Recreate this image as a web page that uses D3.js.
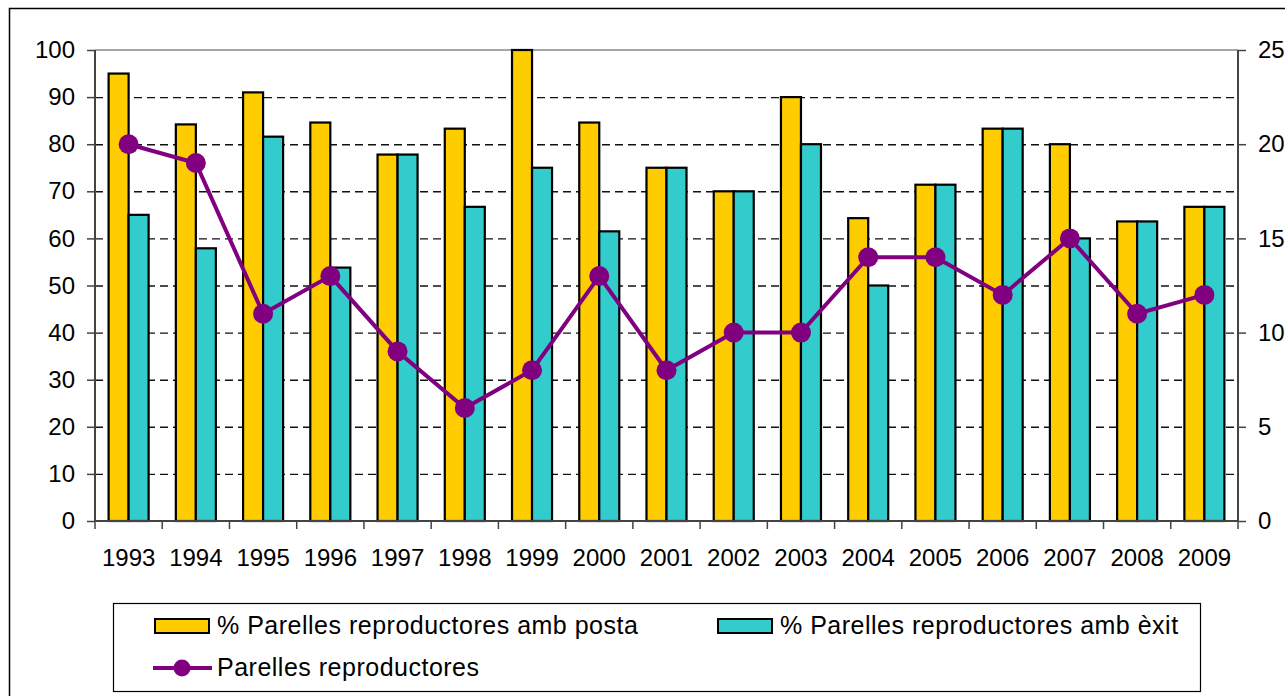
<!DOCTYPE html>
<meta charset="utf-8">
<head>
<style>
body { margin: 0; background: #fff; }
svg text { font-family: "Liberation Sans", Arial, sans-serif; fill: #000; }
</style>
<script src="https://cdnjs.cloudflare.com/ajax/libs/d3/7.8.5/d3.min.js"></script>
</head>
<body>
<div id="vis-container"></div>
<script>
var years = ['1993','1994','1995','1996','1997','1998','1999','2000','2001','2002','2003','2004','2005','2006','2007','2008','2009']
var posta = [95, 84.2, 91, 84.6, 77.8, 83.3, 100, 84.6, 75, 70, 90, 64.3, 71.4, 83.3, 80, 63.6, 66.7]
var exit = [65, 57.9, 81.6, 53.8, 77.8, 66.7, 75, 61.5, 75, 70, 80, 50, 71.4, 83.3, 60, 63.6, 66.7]
var parelles = [20, 19, 11, 13, 9, 6, 8, 13, 8, 10, 10, 14, 14, 12, 15, 11, 12]
var leftTicks = [0, 10, 20, 30, 40, 50, 60, 70, 80, 90, 100]
var rightTicks = [0, 5, 10, 15, 20, 25]
var seriesNames = ['% Parelles reproductores amb posta', '% Parelles reproductores amb èxit', 'Parelles reproductores']

var yellow = '#FFCC00', teal = '#33CCCC', purple = '#800080'

var plot = {left: 95, right: 1238, top: 50, bottom: 521}

var svg = d3.select('#vis-container').append('svg')
	.attr('width', 1285)
	.attr('height', 696)

// outer frame
svg.append('rect')
	.attr('x', 9.5).attr('y', 8.5)
	.attr('width', 1285).attr('height', 700)
	.attr('fill', 'none').attr('stroke', '#000').attr('stroke-width', 1.5)

var x0 = d3.scaleBand().domain(years).range([plot.left, plot.right])
var x1 = d3.scaleBand().domain(['posta', 'exit']).range([0, x0.bandwidth()]).paddingOuter(0.68)
var y = d3.scaleLinear().domain([0, 100]).range([plot.bottom, plot.top])
var y2 = d3.scaleLinear().domain([0, 25]).range([plot.bottom, plot.top])

// gridlines
svg.append('g').selectAll('line')
	.data(leftTicks.filter(function(d) { return d > 0 && d < 100 }))
	.enter().append('line')
	.attr('x1', plot.left).attr('x2', plot.right)
	.attr('y1', function(d) { return y(d) + 0.5 }).attr('y2', function(d) { return y(d) + 0.5 })
	.attr('stroke', '#111').attr('stroke-width', 1.4).attr('stroke-dasharray', '8,5')

// top border of plot
svg.append('line')
	.attr('x1', plot.left).attr('x2', plot.right)
	.attr('y1', plot.top).attr('y2', plot.top)
	.attr('stroke', '#888').attr('stroke-width', 1.5)

// bars
var groups = svg.append('g').selectAll('g')
	.data(years)
	.enter().append('g')
	.attr('transform', function(d) { return 'translate(' + x0(d) + ',0)' })

groups.append('rect')
	.attr('x', x1('posta'))
	.attr('y', function(d, i) { return y(posta[i]) })
	.attr('width', x1.bandwidth())
	.attr('height', function(d, i) { return y(0) - y(posta[i]) })
	.attr('fill', yellow).attr('stroke', '#000').attr('stroke-width', 2.2)

groups.append('rect')
	.attr('x', x1('exit'))
	.attr('y', function(d, i) { return y(exit[i]) })
	.attr('width', x1.bandwidth())
	.attr('height', function(d, i) { return y(0) - y(exit[i]) })
	.attr('fill', teal).attr('stroke', '#000').attr('stroke-width', 2.2)

// axes
var leftAxis = svg.append('g')
	.attr('transform', 'translate(' + plot.left + ',0)')
	.call(d3.axisLeft(y).tickValues(leftTicks).tickSize(8).tickPadding(12))
var rightAxis = svg.append('g')
	.attr('transform', 'translate(' + plot.right + ',0)')
	.call(d3.axisRight(y2).tickValues(rightTicks).tickSize(8).tickPadding(12))
var bottomAxis = svg.append('g')
	.attr('transform', 'translate(0,' + plot.bottom + ')')
	.call(d3.axisBottom(x0).tickSize(0).tickPadding(28))

// category boundary ticks
svg.append('g').selectAll('line')
	.data(years.concat(['end']))
	.enter().append('line')
	.attr('x1', function(d, i) { return i < years.length ? x0(d) : plot.right })
	.attr('x2', function(d, i) { return i < years.length ? x0(d) : plot.right })
	.attr('y1', plot.bottom).attr('y2', plot.bottom + 8)
	.attr('stroke', '#444').attr('stroke-width', 1.5)

svg.selectAll('.domain').attr('stroke', '#444').attr('stroke-width', 2)
svg.selectAll('.tick line').attr('stroke', '#444').attr('stroke-width', 1.5)
svg.selectAll('.tick text').attr('font-size', 24).attr('font-family', '"Liberation Sans", Arial, sans-serif').attr('fill', '#000')
leftAxis.select('.domain').attr('d', 'M0,' + plot.bottom + 'V' + plot.top)
rightAxis.select('.domain').attr('d', 'M0,' + plot.bottom + 'V' + plot.top)
bottomAxis.select('.domain').attr('d', 'M' + plot.left + ',0H' + plot.right)

// line series
var cx = function(d, i) { return x0(years[i]) + x0.bandwidth() / 2 }
var line = d3.line()
	.x(function(d, i) { return cx(d, i) })
	.y(function(d) { return y2(d) })

svg.append('path')
	.datum(parelles)
	.attr('d', line)
	.attr('fill', 'none').attr('stroke', purple).attr('stroke-width', 4)

svg.append('g').selectAll('circle')
	.data(parelles)
	.enter().append('circle')
	.attr('cx', cx)
	.attr('cy', function(d) { return y2(d) })
	.attr('r', 10)
	.attr('fill', purple)

// legend
var legend = svg.append('g')
legend.append('rect')
	.attr('x', 113.5).attr('y', 603.5).attr('width', 1087).attr('height', 88)
	.attr('fill', '#fff').attr('stroke', '#000').attr('stroke-width', 1.2)

legend.append('rect')
	.attr('x', 155).attr('y', 619).attr('width', 54).attr('height', 14)
	.attr('fill', yellow).attr('stroke', '#000').attr('stroke-width', 2)
legend.append('text')
	.attr('x', 217).attr('y', 634).attr('font-size', 25).attr('letter-spacing', 0.5).text(seriesNames[0])

legend.append('rect')
	.attr('x', 718).attr('y', 619).attr('width', 54).attr('height', 14)
	.attr('fill', teal).attr('stroke', '#000').attr('stroke-width', 2)
legend.append('text')
	.attr('x', 780).attr('y', 634).attr('font-size', 25).attr('letter-spacing', 0.5).text(seriesNames[1])

legend.append('line')
	.attr('x1', 153).attr('x2', 212).attr('y1', 668).attr('y2', 668)
	.attr('stroke', purple).attr('stroke-width', 4)
legend.append('circle')
	.attr('cx', 182).attr('cy', 668).attr('r', 8.5).attr('fill', purple)
legend.append('text')
	.attr('x', 217).attr('y', 676).attr('font-size', 25).attr('letter-spacing', 0.5).text(seriesNames[2])
</script>
</body>
